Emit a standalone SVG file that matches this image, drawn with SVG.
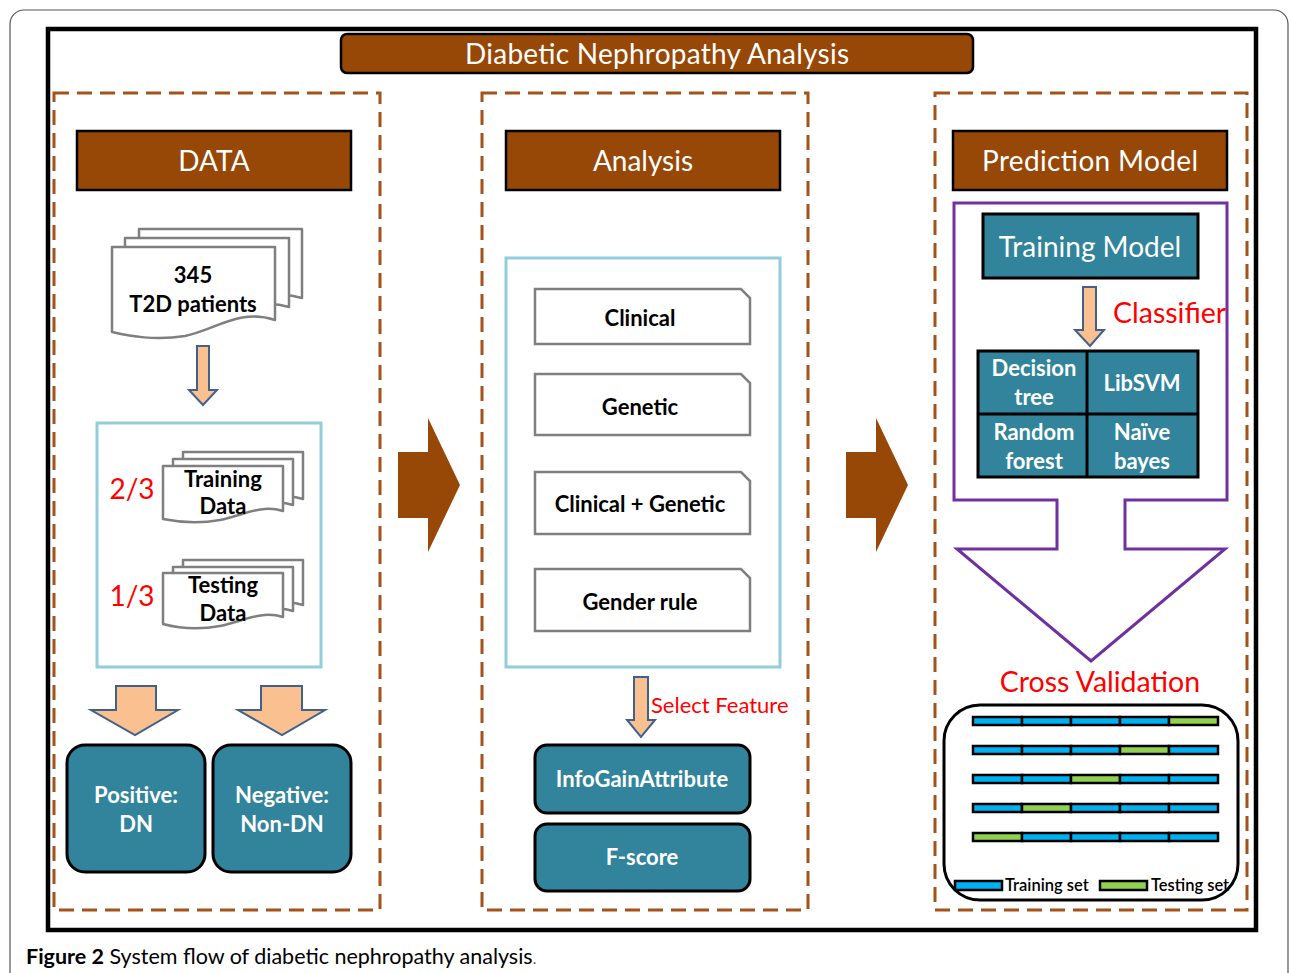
<svg xmlns="http://www.w3.org/2000/svg" width="1290" height="973" viewBox="0 0 1290 973">
<style>
.hdr{fill:#974706;stroke:#000;stroke-width:2.5}
.hdrt{fill:#fff;font-family:Lato,"Open Sans",sans-serif;font-size:28px;text-anchor:middle}
.dash{fill:none;stroke:#a3531a;stroke-width:3;stroke-dasharray:15 8}
.doc{fill:#fff;stroke:#7f7f7f;stroke-width:2.5;stroke-linejoin:round}
.bt{font-family:Lato,"Open Sans",sans-serif;font-weight:bold;font-size:22px;fill:#000;text-anchor:middle}
.wt{font-family:Lato,"Open Sans",sans-serif;font-weight:bold;font-size:22px;fill:#fff;text-anchor:middle}
.red{font-family:Lato,"Open Sans",sans-serif;fill:#ff0000}
.teal{fill:#31849b;stroke:#000;stroke-width:3}
.lb{fill:none;stroke:#92cddc;stroke-width:3}
.oar{fill:#fac090;stroke:#41618c;stroke-width:2;stroke-linejoin:miter}
.big{fill:#974706}
.card{fill:#fff;stroke:#7f7f7f;stroke-width:2.5}
.blu{fill:#00b0f0;stroke:#000;stroke-width:2.5}
.grn{fill:#92d050;stroke:#000;stroke-width:2.5}
.pur{fill:none;stroke:#7030a0;stroke-width:3;stroke-linejoin:miter}
.leg{font-family:Lato,"Open Sans",sans-serif;font-size:16.5px;font-weight:600;fill:#000}
</style>
<rect x="0" y="0" width="1290" height="973" fill="#fff"/>
<rect x="10" y="10" width="1278" height="1000" rx="14" fill="none" stroke="#555" stroke-width="1.2"/>
<rect x="48" y="29" width="1208" height="901" fill="#fff" stroke="#000" stroke-width="4.5"/>

<g id="title">
<rect x="341" y="34" width="632" height="39" rx="6" class="hdr"/>
<text x="657" y="64" class="hdrt" textLength="384">Diabetic Nephropathy Analysis</text>
</g>

<g id="panels">
<rect x="54" y="93" width="326" height="817" class="dash"/>
<rect x="482" y="93" width="326" height="817" class="dash"/>
<rect x="935" y="93" width="312" height="817" class="dash"/>
</g>

<g id="data-header"><rect x="77" y="131" width="274" height="59" class="hdr"/><text x="214" y="171" class="hdrt">DATA</text></g>
<g id="analysis-header"><rect x="506" y="131" width="274" height="59" class="hdr"/><text x="643" y="171" class="hdrt">Analysis</text></g>
<g id="prediction-header"><rect x="953" y="131" width="274" height="59" class="hdr"/><text x="1090" y="171" class="hdrt" textLength="216">Prediction Model</text></g>

<g id="patients">
<path class="doc" d="M139,229 H302 V298 C268,288 248,306 218,312 C190,318 160,314 139,312 Z"/>
<path class="doc" d="M125,238 H289 V307 C255,297 235,315 205,321 C177,327 147,323 125,321 Z"/>
<path class="doc" d="M112,247 H275 V320 C240,308 215,330 185,336 C155,341 130,336 112,332 Z"/>
<text x="193" y="283" class="bt">345</text>
<text x="193" y="312" class="bt">T2D patients</text>
</g>

<g id="split-box">
<rect x="97" y="423" width="224" height="244" class="lb"/>
<text x="132" y="499" class="red" font-size="28" text-anchor="middle">2/3</text>
<text x="132" y="606" class="red" font-size="28" text-anchor="middle">1/3</text>
</g>
<g id="training-data">
<path class="doc" d="M183,452 H303 V499 C280,492 262,504 240,508 C218,512 198,510 183,509 Z"/>
<path class="doc" d="M173,459 H293 V505 C270,498 252,510 230,514 C208,518 188,516 173,515 Z"/>
<path class="doc" d="M163,466 H283 V511 C260,504 242,516 220,520 C198,524 178,522 163,519 Z"/>
<text x="223" y="487" class="bt">Training</text>
<text x="223" y="514" class="bt">Data</text>
</g>
<g id="testing-data">
<path class="doc" d="M183,560 H303 V605 C280,598 262,610 240,614 C218,618 198,616 183,614 Z"/>
<path class="doc" d="M173,567 H293 V611 C270,604 252,616 230,620 C208,624 188,622 173,620 Z"/>
<path class="doc" d="M163,573 H283 V617 C260,610 242,622 220,626 C198,630 178,628 163,624 Z"/>
<text x="223" y="593" class="bt">Testing</text>
<text x="223" y="621" class="bt">Data</text>
</g>

<g id="positive"><rect x="67" y="745" width="138" height="127" rx="18" class="teal"/><text x="136" y="803" class="wt">Positive:</text><text x="136" y="832" class="wt">DN</text></g>
<g id="negative"><rect x="213" y="745" width="138" height="127" rx="18" class="teal"/><text x="282" y="803" class="wt">Negative:</text><text x="282" y="832" class="wt">Non-DN</text></g>

<g id="features-box"><rect x="506" y="258" width="274" height="409" class="lb"/></g>
<g id="clinical"><path class="card" d="M535,289 H741 L750,298 V344 H535 Z"/><text x="640" y="326" class="bt">Clinical</text></g>
<g id="genetic"><path class="card" d="M535,374 H741 L750,383 V435 H535 Z"/><text x="640" y="415" class="bt">Genetic</text></g>
<g id="clinical-genetic"><path class="card" d="M535,472 H741 L750,481 V534 H535 Z"/><text x="640" y="512" class="bt">Clinical + Genetic</text></g>
<g id="gender-rule"><path class="card" d="M535,569 H741 L750,578 V631 H535 Z"/><text x="640" y="610" class="bt">Gender rule</text></g>

<g id="infogain"><rect x="535" y="745" width="215" height="68" rx="12" class="teal"/><text x="642" y="787" class="wt">InfoGainAttribute</text></g>
<g id="fscore"><rect x="535" y="824" width="215" height="67" rx="12" class="teal"/><text x="642" y="865" class="wt">F-score</text></g>

<g id="prediction-frame">
<path class="pur" d="M954,203 H1227 V500 H1125 V549 H1225 L1091,661 L957,549 H1057 V500 H954 Z"/>
</g>
<g id="training-model"><rect x="983" y="214" width="215" height="64" class="teal" stroke-width="2.5"/><text x="1090" y="257" class="hdrt" font-size="30">Training Model</text></g>
<g id="classifiers">
<rect x="978" y="351" width="220" height="126" class="teal"/>
<line x1="1087" y1="351" x2="1087" y2="477" stroke="#000" stroke-width="3"/>
<line x1="978" y1="414" x2="1198" y2="414" stroke="#000" stroke-width="3"/>
<text x="1034" y="376" class="wt">Decision</text><text x="1034" y="405" class="wt">tree</text>
<text x="1142" y="391" class="wt">LibSVM</text>
<text x="1034" y="440" class="wt">Random</text><text x="1034" y="469" class="wt">forest</text>
<text x="1142" y="440" class="wt">Naïve</text><text x="1142" y="469" class="wt">bayes</text>
</g>
<text x="1113" y="323" class="red" font-size="28.5">Classifier</text>
<text x="1100" y="692" class="red" font-size="28.5" text-anchor="middle">Cross Validation</text>

<g id="cross-validation">
<rect x="944" y="705" width="294" height="195" rx="36" fill="#fff" stroke="#000" stroke-width="3"/>
<g>
<rect x="973" y="717" width="49" height="8" class="blu"/><rect x="1022" y="717" width="49" height="8" class="blu"/><rect x="1071" y="717" width="49" height="8" class="blu"/><rect x="1120" y="717" width="49" height="8" class="blu"/><rect x="1169" y="717" width="49" height="8" class="grn"/>
<rect x="973" y="746" width="49" height="8" class="blu"/><rect x="1022" y="746" width="49" height="8" class="blu"/><rect x="1071" y="746" width="49" height="8" class="blu"/><rect x="1120" y="746" width="49" height="8" class="grn"/><rect x="1169" y="746" width="49" height="8" class="blu"/>
<rect x="973" y="775" width="49" height="8" class="blu"/><rect x="1022" y="775" width="49" height="8" class="blu"/><rect x="1071" y="775" width="49" height="8" class="grn"/><rect x="1120" y="775" width="49" height="8" class="blu"/><rect x="1169" y="775" width="49" height="8" class="blu"/>
<rect x="973" y="804" width="49" height="8" class="blu"/><rect x="1022" y="804" width="49" height="8" class="grn"/><rect x="1071" y="804" width="49" height="8" class="blu"/><rect x="1120" y="804" width="49" height="8" class="blu"/><rect x="1169" y="804" width="49" height="8" class="blu"/>
<rect x="973" y="833" width="49" height="8" class="grn"/><rect x="1022" y="833" width="49" height="8" class="blu"/><rect x="1071" y="833" width="49" height="8" class="blu"/><rect x="1120" y="833" width="49" height="8" class="blu"/><rect x="1169" y="833" width="49" height="8" class="blu"/>
</g>
<rect x="955" y="881" width="47" height="9" class="blu"/>
<text x="1005" y="891" class="leg">Training set</text>
<rect x="1100" y="881" width="47" height="9" class="grn"/>
<text x="1151" y="891" class="leg">Testing set</text>
</g>

<g id="connectors">
<path class="oar" d="M197,346 H209 V390 H217 L203,405 L189,390 H197 Z"/>
<path class="oar" d="M116,686 H156 V710 H178 L135,735 L91,710 H116 Z"/>
<path class="oar" d="M261,686 H302 V710 H325 L282,735 L238,710 H261 Z"/>
<path class="oar" d="M634,677 H648 V720 H655 L641,737 L627,720 H634 Z"/>
<path class="oar" d="M1083,287 H1096 V330 H1104 L1090,346 L1075,330 H1083 Z"/>
<path class="big" d="M398,452 H428 V418 L460,485 L428,552 V518 H398 Z"/>
<path class="big" d="M846,452 H876 V418 L908,485 L876,552 V518 H846 Z"/>
</g>
<text x="651" y="713" class="red" font-size="22">Select Feature</text>

<text x="26" y="964" font-family="Lato,'Open Sans',sans-serif" font-size="21.5" fill="#000"><tspan font-weight="bold">Figure 2</tspan> System flow of diabetic nephropathy analysis<tspan font-size="15" fill="#555">.</tspan></text>
</svg>
